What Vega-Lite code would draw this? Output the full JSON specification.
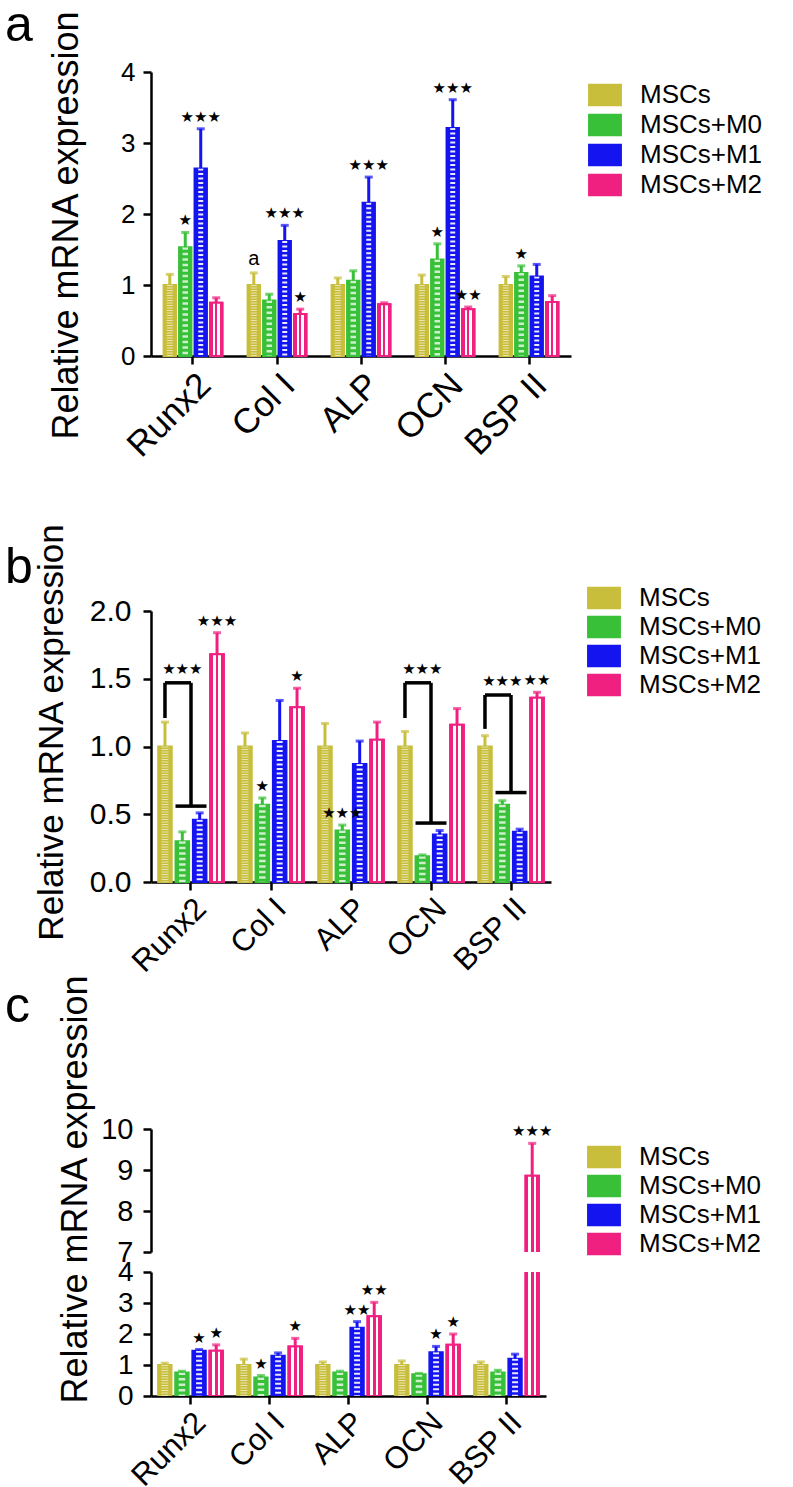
{
  "$schema": "https://vega.github.io/schema/vega-lite/v6.json",
  "autosize": {"type": "pad"},
  "padding": {"left": 5, "top": 0, "right": 5, "bottom": 5},
  "background": "white",
  "config": {
    "view": {"stroke": null},
    "axis": {"domainColor": "black", "tickColor": "black", "labelColor": "black", "titleColor": "black", "domainWidth": 2.5, "tickWidth": 2.5, "tickSize": 8, "grid": false, "labelFont": "Liberation Sans", "titleFont": "Liberation Sans", "titleFontWeight": "normal", "labelOverlap": false},
    "axisY": {"tickCount": 10, "labelOverlap": false},
    "legend": {"labelFont": "Liberation Sans", "labelColor": "black"},
    "title": {"font": "Liberation Sans", "fontWeight": "normal", "color": "black"}
  },
  "datasets": {
    "A": [
      {"gene": "Runx2", "group": "MSCs", "mean": 1.0, "hi": 1.15, "sig": ""},
      {"gene": "Runx2", "group": "MSCs+M0", "mean": 1.53, "hi": 1.74, "sig": "★"},
      {"gene": "Runx2", "group": "MSCs+M1", "mean": 2.64, "hi": 3.2, "sig": "★★★"},
      {"gene": "Runx2", "group": "MSCs+M2", "mean": 0.75, "hi": 0.82, "sig": ""},
      {"gene": "Col I", "group": "MSCs", "mean": 1.0, "hi": 1.17, "sig": "a"},
      {"gene": "Col I", "group": "MSCs+M0", "mean": 0.78, "hi": 0.87, "sig": ""},
      {"gene": "Col I", "group": "MSCs+M1", "mean": 1.62, "hi": 1.84, "sig": "★★★"},
      {"gene": "Col I", "group": "MSCs+M2", "mean": 0.59, "hi": 0.66, "sig": "★"},
      {"gene": "ALP", "group": "MSCs", "mean": 1.0, "hi": 1.1, "sig": ""},
      {"gene": "ALP", "group": "MSCs+M0", "mean": 1.06, "hi": 1.2, "sig": ""},
      {"gene": "ALP", "group": "MSCs+M1", "mean": 2.16, "hi": 2.52, "sig": "★★★"},
      {"gene": "ALP", "group": "MSCs+M2", "mean": 0.73, "hi": 0.75, "sig": ""},
      {"gene": "OCN", "group": "MSCs", "mean": 1.0, "hi": 1.14, "sig": ""},
      {"gene": "OCN", "group": "MSCs+M0", "mean": 1.36, "hi": 1.58, "sig": "★"},
      {"gene": "OCN", "group": "MSCs+M1", "mean": 3.21, "hi": 3.61, "sig": "★★★"},
      {"gene": "OCN", "group": "MSCs+M2", "mean": 0.66, "hi": 0.69, "sig": "★★"},
      {"gene": "BSP II", "group": "MSCs", "mean": 1.0, "hi": 1.12, "sig": ""},
      {"gene": "BSP II", "group": "MSCs+M0", "mean": 1.17, "hi": 1.27, "sig": "★"},
      {"gene": "BSP II", "group": "MSCs+M1", "mean": 1.12, "hi": 1.29, "sig": ""},
      {"gene": "BSP II", "group": "MSCs+M2", "mean": 0.76, "hi": 0.85, "sig": ""}
    ],
    "B": [
      {"gene": "Runx2", "group": "MSCs", "mean": 1.0, "hi": 1.18, "sig": ""},
      {"gene": "Runx2", "group": "MSCs+M0", "mean": 0.3, "hi": 0.37, "sig": ""},
      {"gene": "Runx2", "group": "MSCs+M1", "mean": 0.46, "hi": 0.51, "sig": ""},
      {"gene": "Runx2", "group": "MSCs+M2", "mean": 1.68, "hi": 1.84, "sig": "★★★"},
      {"gene": "Col I", "group": "MSCs", "mean": 1.0, "hi": 1.1, "sig": ""},
      {"gene": "Col I", "group": "MSCs+M0", "mean": 0.57, "hi": 0.62, "sig": "★"},
      {"gene": "Col I", "group": "MSCs+M1", "mean": 1.04, "hi": 1.34, "sig": ""},
      {"gene": "Col I", "group": "MSCs+M2", "mean": 1.29, "hi": 1.43, "sig": "★"},
      {"gene": "ALP", "group": "MSCs", "mean": 1.0, "hi": 1.17, "sig": ""},
      {"gene": "ALP", "group": "MSCs+M0", "mean": 0.38, "hi": 0.42, "sig": "★★★"},
      {"gene": "ALP", "group": "MSCs+M1", "mean": 0.87, "hi": 1.04, "sig": ""},
      {"gene": "ALP", "group": "MSCs+M2", "mean": 1.05, "hi": 1.18, "sig": ""},
      {"gene": "OCN", "group": "MSCs", "mean": 1.0, "hi": 1.11, "sig": ""},
      {"gene": "OCN", "group": "MSCs+M0", "mean": 0.19, "hi": 0.2, "sig": ""},
      {"gene": "OCN", "group": "MSCs+M1", "mean": 0.35, "hi": 0.38, "sig": ""},
      {"gene": "OCN", "group": "MSCs+M2", "mean": 1.16, "hi": 1.28, "sig": ""},
      {"gene": "BSP II", "group": "MSCs", "mean": 1.0, "hi": 1.08, "sig": ""},
      {"gene": "BSP II", "group": "MSCs+M0", "mean": 0.57, "hi": 0.6, "sig": ""},
      {"gene": "BSP II", "group": "MSCs+M1", "mean": 0.37, "hi": 0.39, "sig": ""},
      {"gene": "BSP II", "group": "MSCs+M2", "mean": 1.36, "hi": 1.4, "sig": "★★"}
    ],
    "Bk": [
      {"gene": "Runx2", "ylow": 1.21, "ytop": 1.47, "ybot": 0.56, "sig": "★★★"},
      {"gene": "OCN", "ylow": 1.21, "ytop": 1.47, "ybot": 0.435, "sig": "★★★"},
      {"gene": "BSP II", "ylow": 1.13, "ytop": 1.38, "ybot": 0.66, "sig": "★★★"}
    ],
    "C": [
      {"gene": "Runx2", "group": "MSCs", "mean": 1.0, "hi": 1.06, "sig": ""},
      {"gene": "Runx2", "group": "MSCs+M0", "mean": 0.76, "hi": 0.8, "sig": ""},
      {"gene": "Runx2", "group": "MSCs+M1", "mean": 1.46, "hi": 1.5, "sig": "★"},
      {"gene": "Runx2", "group": "MSCs+M2", "mean": 1.46, "hi": 1.65, "sig": "★"},
      {"gene": "Col I", "group": "MSCs", "mean": 1.0, "hi": 1.19, "sig": ""},
      {"gene": "Col I", "group": "MSCs+M0", "mean": 0.6, "hi": 0.66, "sig": "★"},
      {"gene": "Col I", "group": "MSCs+M1", "mean": 1.3, "hi": 1.39, "sig": ""},
      {"gene": "Col I", "group": "MSCs+M2", "mean": 1.6, "hi": 1.86, "sig": "★"},
      {"gene": "ALP", "group": "MSCs", "mean": 1.0, "hi": 1.1, "sig": ""},
      {"gene": "ALP", "group": "MSCs+M0", "mean": 0.76, "hi": 0.8, "sig": ""},
      {"gene": "ALP", "group": "MSCs+M1", "mean": 2.2, "hi": 2.4, "sig": "★★"},
      {"gene": "ALP", "group": "MSCs+M2", "mean": 2.57, "hi": 3.02, "sig": "★★"},
      {"gene": "OCN", "group": "MSCs", "mean": 1.0, "hi": 1.13, "sig": ""},
      {"gene": "OCN", "group": "MSCs+M0", "mean": 0.7, "hi": 0.73, "sig": ""},
      {"gene": "OCN", "group": "MSCs+M1", "mean": 1.41, "hi": 1.6, "sig": "★"},
      {"gene": "OCN", "group": "MSCs+M2", "mean": 1.65, "hi": 2.0, "sig": "★"},
      {"gene": "BSP II", "group": "MSCs", "mean": 1.0, "hi": 1.1, "sig": ""},
      {"gene": "BSP II", "group": "MSCs+M0", "mean": 0.76, "hi": 0.83, "sig": ""},
      {"gene": "BSP II", "group": "MSCs+M1", "mean": 1.2, "hi": 1.35, "sig": ""},
      {"gene": "BSP II", "group": "MSCs+M2", "mean": 8.86, "hi": 9.65, "sig": "★★★"}
    ]
  },
  "bounds": "flush",
  "spacing": 255,
  "resolve": {"scale": {"color": "independent", "stroke": "independent", "xOffset": "independent", "strokeDash": "independent", "strokeWidth": "independent", "opacity": "independent"}, "legend": {"color": "independent"}},
  "vconcat": [
    {
      "width": 420, "height": 284,
      "data": {"name": "A"},
      "title": {"text": "a", "orient": "top", "anchor": "start", "frame": "group", "fontSize": 50, "baseline": "alphabetic", "dx": -146, "dy": 85},
      "layer": [
        {"mark": {"type": "bar", "strokeWidth": 2},
         "encoding": {
           "x": {"field": "gene", "type": "nominal", "scale": {"domain": ["Runx2", "Col I", "ALP", "OCN", "BSP II"], "paddingInner": 0.3, "paddingOuter": 0.15}, "axis": {"title": null, "labelAngle": -45, "labelFontSize": 35, "labelPadding": 3}},
           "xOffset": {"field": "group", "type": "nominal", "scale": {"domain": ["MSCs", "MSCs+M0", "MSCs+M1", "MSCs+M2"], "paddingInner": 0.2, "paddingOuter": 0}},
           "y": {"field": "mean", "type": "quantitative", "scale": {"domain": [0, 4], "nice": false}, "axis": {"values": [0, 1, 2, 3, 4], "tickCount": 10, "format": "d", "labelOverlap": false, "title": "Relative mRNA expression", "titleFontSize": 36, "labelFontSize": 26, "labelPadding": 8, "titleX": -66, "titleY": 153}},
           "color": {"field": "group", "type": "nominal", "scale": {"domain": ["MSCs", "MSCs+M0", "MSCs+M1", "MSCs+M2"], "range": ["#C8BE3C", "#38C038", "#1414F0", "#F02080"]}, "legend": {"orient": "none", "legendX": 441, "legendY": 10, "title": null, "symbolType": "M-1.5,-1H1.5V1H-1.5Z", "symbolSize": 510, "labelFontSize": 26, "labelOffset": 22, "rowPadding": 4, "symbolStrokeWidth": 0}},
           "stroke": {"field": "group", "type": "nominal", "scale": {"domain": ["MSCs", "MSCs+M0", "MSCs+M1", "MSCs+M2"], "range": ["#C8BE3C", "#38C038", "#1414F0", "#F02080"]}, "legend": null}
         }},
        {"transform": [{"filter": "datum.group != 'MSCs+M2'"}],
         "mark": {"type": "rule", "color": "white"},
         "encoding": {
           "x": {"field": "gene", "type": "nominal"},
           "xOffset": {"field": "group", "type": "nominal"},
           "y": {"field": "mean", "type": "quantitative"},
           "y2": {"datum": 0},
           "strokeDash": {"field": "group", "type": "nominal", "scale": {"domain": ["MSCs", "MSCs+M0", "MSCs+M1"], "range": [[1, 1.5], [2.5, 3], [2, 2.5]]}, "legend": null},
           "strokeWidth": {"field": "group", "type": "ordinal", "scale": {"domain": ["MSCs", "MSCs+M0", "MSCs+M1"], "range": [6, 5, 8]}, "legend": null},
           "opacity": {"field": "group", "type": "ordinal", "scale": {"domain": ["MSCs", "MSCs+M0", "MSCs+M1"], "range": [0.6, 0.9, 0.95]}, "legend": null}
         }},
        {"transform": [{"filter": "datum.group == 'MSCs+M2'"}],
         "mark": {"type": "bar", "stroke": "#F02080", "strokeWidth": 2, "fill": {"gradient": "linear", "x1": 0, "y1": 0, "x2": 1, "y2": 0, "stops": [{"offset": 0, "color": "#F02080"}, {"offset": 0.22, "color": "#F02080"}, {"offset": 0.22, "color": "#FFFFFF"}, {"offset": 0.4, "color": "#FFFFFF"}, {"offset": 0.4, "color": "#F02080"}, {"offset": 0.6, "color": "#F02080"}, {"offset": 0.6, "color": "#FFFFFF"}, {"offset": 0.78, "color": "#FFFFFF"}, {"offset": 0.78, "color": "#F02080"}, {"offset": 1, "color": "#F02080"}]}},
         "encoding": {
           "x": {"field": "gene", "type": "nominal"},
           "xOffset": {"field": "group", "type": "nominal"},
           "y": {"field": "mean", "type": "quantitative"}
         }},
        {"mark": {"type": "rule", "strokeWidth": 3},
         "encoding": {
           "x": {"field": "gene", "type": "nominal"},
           "xOffset": {"field": "group", "type": "nominal"},
           "y": {"field": "mean", "type": "quantitative"},
           "y2": {"field": "hi"},
           "color": {"field": "group", "type": "nominal", "legend": null}
         }},
        {"mark": {"type": "tick", "thickness": 3, "size": 8},
         "encoding": {
           "x": {"field": "gene", "type": "nominal"},
           "xOffset": {"field": "group", "type": "nominal"},
           "y": {"field": "hi", "type": "quantitative"},
           "color": {"field": "group", "type": "nominal", "legend": null}
         }},
        {"transform": [{"filter": "datum.sig != '' && datum.sig != 'a'"}],
         "mark": {"type": "text", "baseline": "bottom", "dy": -4, "font": "DejaVu Sans", "fontSize": 15, "color": "black"},
         "encoding": {
           "x": {"field": "gene", "type": "nominal"},
           "xOffset": {"field": "group", "type": "nominal"},
           "y": {"field": "hi", "type": "quantitative"},
           "text": {"field": "sig"}
         }},
        {"transform": [{"filter": "datum.sig == 'a'"}],
         "mark": {"type": "text", "baseline": "bottom", "dy": -4, "font": "Liberation Sans", "fontSize": 20, "color": "black"},
         "encoding": {
           "x": {"field": "gene", "type": "nominal"},
           "xOffset": {"field": "group", "type": "nominal"},
           "y": {"field": "hi", "type": "quantitative"},
           "text": {"field": "sig"}
         }}
      ]
    },
    {
      "bounds": "flush",
      "spacing": 247,
      "resolve": {"scale": {"color": "independent", "stroke": "independent", "xOffset": "independent", "strokeDash": "independent", "strokeWidth": "independent", "opacity": "independent"}, "legend": {"color": "independent"}},
      "vconcat": [
        {
          "width": 400, "height": 271,
          "title": {"text": "b", "orient": "top", "anchor": "start", "frame": "group", "fontSize": 50, "baseline": "alphabetic", "dx": -146, "dy": 114},
          "layer": [
            {"data": {"name": "B"},
             "mark": {"type": "bar", "strokeWidth": 2},
             "encoding": {
               "x": {"field": "gene", "type": "nominal", "scale": {"domain": ["Runx2", "Col I", "ALP", "OCN", "BSP II"], "paddingInner": 0.18, "paddingOuter": 0.09}, "axis": {"title": null, "labelAngle": -45, "labelFontSize": 31, "labelPadding": 3}},
               "xOffset": {"field": "group", "type": "nominal", "scale": {"domain": ["MSCs", "MSCs+M0", "MSCs+M1", "MSCs+M2"], "paddingInner": 0.22, "paddingOuter": 0}},
               "y": {"field": "mean", "type": "quantitative", "scale": {"domain": [0, 2], "nice": false}, "axis": {"values": [0, 0.5, 1, 1.5, 2], "tickCount": 10, "format": ".1f", "labelOverlap": false, "title": "Relative mRNA expression", "titleFontSize": 35, "labelFontSize": 30, "labelPadding": 12, "titleX": -82, "titleY": 121}},
               "color": {"field": "group", "type": "nominal", "scale": {"domain": ["MSCs", "MSCs+M0", "MSCs+M1", "MSCs+M2"], "range": ["#C8BE3C", "#38C038", "#1414F0", "#F02080"]}, "legend": {"orient": "none", "legendX": 440, "legendY": -26, "title": null, "symbolType": "M-1.5,-1H1.5V1H-1.5Z", "symbolSize": 510, "labelFontSize": 26, "labelOffset": 22, "rowPadding": 3, "symbolStrokeWidth": 0}},
               "stroke": {"field": "group", "type": "nominal", "scale": {"domain": ["MSCs", "MSCs+M0", "MSCs+M1", "MSCs+M2"], "range": ["#C8BE3C", "#38C038", "#1414F0", "#F02080"]}, "legend": null}
             }},
            {"data": {"name": "B"},
             "transform": [{"filter": "datum.group != 'MSCs+M2'"}],
             "mark": {"type": "rule", "color": "white"},
             "encoding": {
               "x": {"field": "gene", "type": "nominal"},
               "xOffset": {"field": "group", "type": "nominal"},
               "y": {"field": "mean", "type": "quantitative"},
               "y2": {"datum": 0},
               "strokeDash": {"field": "group", "type": "nominal", "scale": {"domain": ["MSCs", "MSCs+M0", "MSCs+M1"], "range": [[1, 1.5], [2.5, 3], [2, 2.5]]}, "legend": null},
               "strokeWidth": {"field": "group", "type": "ordinal", "scale": {"domain": ["MSCs", "MSCs+M0", "MSCs+M1"], "range": [7, 6, 9]}, "legend": null},
               "opacity": {"field": "group", "type": "ordinal", "scale": {"domain": ["MSCs", "MSCs+M0", "MSCs+M1"], "range": [0.6, 0.9, 0.95]}, "legend": null}
             }},
            {"data": {"name": "B"},
             "transform": [{"filter": "datum.group == 'MSCs+M2'"}],
             "mark": {"type": "bar", "stroke": "#F02080", "strokeWidth": 2, "fill": {"gradient": "linear", "x1": 0, "y1": 0, "x2": 1, "y2": 0, "stops": [{"offset": 0, "color": "#F02080"}, {"offset": 0.22, "color": "#F02080"}, {"offset": 0.22, "color": "#FFFFFF"}, {"offset": 0.4, "color": "#FFFFFF"}, {"offset": 0.4, "color": "#F02080"}, {"offset": 0.6, "color": "#F02080"}, {"offset": 0.6, "color": "#FFFFFF"}, {"offset": 0.78, "color": "#FFFFFF"}, {"offset": 0.78, "color": "#F02080"}, {"offset": 1, "color": "#F02080"}]}},
             "encoding": {
               "x": {"field": "gene", "type": "nominal"},
               "xOffset": {"field": "group", "type": "nominal"},
               "y": {"field": "mean", "type": "quantitative"}
             }},
            {"data": {"name": "B"},
             "mark": {"type": "rule", "strokeWidth": 3},
             "encoding": {
               "x": {"field": "gene", "type": "nominal"},
               "xOffset": {"field": "group", "type": "nominal"},
               "y": {"field": "mean", "type": "quantitative"},
               "y2": {"field": "hi"},
               "color": {"field": "group", "type": "nominal", "legend": null}
             }},
            {"data": {"name": "B"},
             "mark": {"type": "tick", "thickness": 3, "size": 8},
             "encoding": {
               "x": {"field": "gene", "type": "nominal"},
               "xOffset": {"field": "group", "type": "nominal"},
               "y": {"field": "hi", "type": "quantitative"},
               "color": {"field": "group", "type": "nominal", "legend": null}
             }},
            {"data": {"name": "B"},
             "transform": [{"filter": "datum.sig != ''"}],
             "mark": {"type": "text", "baseline": "bottom", "dy": -4, "font": "DejaVu Sans", "fontSize": 15, "color": "black"},
             "encoding": {
               "x": {"field": "gene", "type": "nominal"},
               "xOffset": {"field": "group", "type": "nominal"},
               "y": {"field": "hi", "type": "quantitative"},
               "text": {"field": "sig"}
             }},
            {"data": {"name": "Bk"},
             "mark": {"type": "rule", "strokeWidth": 3.5, "color": "black"},
             "encoding": {
               "x": {"field": "gene", "type": "nominal"},
               "xOffset": {"datum": "MSCs"},
               "y": {"field": "ylow", "type": "quantitative"},
               "y2": {"field": "ytop"}
             }},
            {"data": {"name": "Bk"},
             "mark": {"type": "rule", "strokeWidth": 3.5, "color": "black"},
             "encoding": {
               "x": {"field": "gene", "type": "nominal"},
               "xOffset": {"datum": "MSCs"},
               "x2": {"field": "gene"},
               "y": {"field": "ytop", "type": "quantitative"}
             }},
            {"data": {"name": "Bk"},
             "mark": {"type": "rule", "strokeWidth": 3.5, "color": "black"},
             "encoding": {
               "x": {"field": "gene", "type": "nominal"},
               "y": {"field": "ytop", "type": "quantitative"},
               "y2": {"field": "ybot"}
             }},
            {"data": {"name": "Bk"},
             "mark": {"type": "tick", "thickness": 3.5, "size": 31, "color": "black", "opacity": 1},
             "encoding": {
               "x": {"field": "gene", "type": "nominal"},
               "y": {"field": "ybot", "type": "quantitative"}
             }},
            {"data": {"name": "Bk"},
             "mark": {"type": "text", "baseline": "bottom", "dy": -6, "font": "DejaVu Sans", "fontSize": 15, "color": "black"},
             "encoding": {
               "x": {"field": "gene", "type": "nominal"},
               "xOffset": {"datum": "MSCs+M0"},
               "y": {"field": "ytop", "type": "quantitative"},
               "text": {"field": "sig"}
             }}
          ]
        },
        {
          "bounds": "flush",
          "spacing": 20,
          "resolve": {"scale": {"color": "independent", "stroke": "independent", "xOffset": "independent", "strokeDash": "independent", "strokeWidth": "independent", "opacity": "independent"}, "legend": {"color": "independent"}},
          "vconcat": [
            {
              "width": 395, "height": 123,
              "data": {"name": "C"},
              "title": {"text": "c", "orient": "top", "anchor": "start", "frame": "group", "fontSize": 50, "baseline": "alphabetic", "dx": -146, "dy": -39},
              "layer": [
                {"mark": {"type": "bar", "strokeWidth": 2, "clip": true},
                 "encoding": {
                   "x": {"field": "gene", "type": "nominal", "scale": {"domain": ["Runx2", "Col I", "ALP", "OCN", "BSP II"], "paddingInner": 0.18, "paddingOuter": 0.09}, "axis": null},
                   "xOffset": {"field": "group", "type": "nominal", "scale": {"domain": ["MSCs", "MSCs+M0", "MSCs+M1", "MSCs+M2"], "paddingInner": 0.22, "paddingOuter": 0}},
                   "y": {"field": "mean", "type": "quantitative", "scale": {"domain": [7, 10], "nice": false}, "axis": {"values": [7, 8, 9, 10], "tickCount": 10, "format": "d", "labelOverlap": false, "title": null, "labelFontSize": 29, "labelPadding": 10}},
                   "color": {"field": "group", "type": "nominal", "scale": {"domain": ["MSCs", "MSCs+M0", "MSCs+M1", "MSCs+M2"], "range": ["#C8BE3C", "#38C038", "#1414F0", "#F02080"]}, "legend": {"orient": "none", "legendX": 440, "legendY": 15, "title": null, "symbolType": "M-1.5,-1H1.5V1H-1.5Z", "symbolSize": 510, "labelFontSize": 26, "labelOffset": 22, "rowPadding": 3, "symbolStrokeWidth": 0}},
                   "stroke": {"field": "group", "type": "nominal", "scale": {"domain": ["MSCs", "MSCs+M0", "MSCs+M1", "MSCs+M2"], "range": ["#C8BE3C", "#38C038", "#1414F0", "#F02080"]}, "legend": null}
                 }},
                {"transform": [{"filter": "datum.group == 'MSCs+M2'"}],
                 "mark": {"type": "bar", "stroke": "#F02080", "strokeWidth": 2, "clip": true, "fill": {"gradient": "linear", "x1": 0, "y1": 0, "x2": 1, "y2": 0, "stops": [{"offset": 0, "color": "#F02080"}, {"offset": 0.22, "color": "#F02080"}, {"offset": 0.22, "color": "#FFFFFF"}, {"offset": 0.4, "color": "#FFFFFF"}, {"offset": 0.4, "color": "#F02080"}, {"offset": 0.6, "color": "#F02080"}, {"offset": 0.6, "color": "#FFFFFF"}, {"offset": 0.78, "color": "#FFFFFF"}, {"offset": 0.78, "color": "#F02080"}, {"offset": 1, "color": "#F02080"}]}},
                 "encoding": {
                   "x": {"field": "gene", "type": "nominal"},
                   "xOffset": {"field": "group", "type": "nominal"},
                   "y": {"field": "mean", "type": "quantitative"}
                 }},
                {"mark": {"type": "rule", "strokeWidth": 3, "clip": true},
                 "encoding": {
                   "x": {"field": "gene", "type": "nominal"},
                   "xOffset": {"field": "group", "type": "nominal"},
                   "y": {"field": "mean", "type": "quantitative"},
                   "y2": {"field": "hi"},
                   "color": {"field": "group", "type": "nominal", "legend": null}
                 }},
                {"mark": {"type": "tick", "thickness": 3, "size": 8, "clip": true},
                 "encoding": {
                   "x": {"field": "gene", "type": "nominal"},
                   "xOffset": {"field": "group", "type": "nominal"},
                   "y": {"field": "hi", "type": "quantitative"},
                   "color": {"field": "group", "type": "nominal", "legend": null}
                 }},
                {"transform": [{"filter": "datum.sig != '' && datum.hi > 7"}],
                 "mark": {"type": "text", "baseline": "bottom", "dy": -4, "font": "DejaVu Sans", "fontSize": 15, "color": "black"},
                 "encoding": {
                   "x": {"field": "gene", "type": "nominal"},
                   "xOffset": {"field": "group", "type": "nominal"},
                   "y": {"field": "hi", "type": "quantitative"},
                   "text": {"field": "sig"}
                 }}
              ]
            },
            {
              "width": 395, "height": 124,
              "data": {"name": "C"},
              "layer": [
                {"mark": {"type": "bar", "strokeWidth": 2, "clip": true},
                 "encoding": {
                   "x": {"field": "gene", "type": "nominal", "scale": {"domain": ["Runx2", "Col I", "ALP", "OCN", "BSP II"], "paddingInner": 0.18, "paddingOuter": 0.09}, "axis": {"title": null, "labelAngle": -45, "labelFontSize": 31, "labelPadding": 3}},
                   "xOffset": {"field": "group", "type": "nominal", "scale": {"domain": ["MSCs", "MSCs+M0", "MSCs+M1", "MSCs+M2"], "paddingInner": 0.22, "paddingOuter": 0}},
                   "y": {"field": "mean", "type": "quantitative", "scale": {"domain": [0, 4], "nice": false}, "axis": {"values": [0, 1, 2, 3, 4], "tickCount": 10, "format": "d", "labelOverlap": false, "title": "Relative mRNA expression", "titleFontSize": 36, "labelFontSize": 28, "labelPadding": 10, "titleX": -57, "titleY": -83}},
                   "color": {"field": "group", "type": "nominal", "scale": {"domain": ["MSCs", "MSCs+M0", "MSCs+M1", "MSCs+M2"], "range": ["#C8BE3C", "#38C038", "#1414F0", "#F02080"]}, "legend": null},
                   "stroke": {"field": "group", "type": "nominal", "scale": {"domain": ["MSCs", "MSCs+M0", "MSCs+M1", "MSCs+M2"], "range": ["#C8BE3C", "#38C038", "#1414F0", "#F02080"]}, "legend": null}
                 }},
                {"transform": [{"filter": "datum.group != 'MSCs+M2'"}],
                 "mark": {"type": "rule", "color": "white", "clip": true},
                 "encoding": {
                   "x": {"field": "gene", "type": "nominal"},
                   "xOffset": {"field": "group", "type": "nominal"},
                   "y": {"field": "mean", "type": "quantitative"},
                   "y2": {"datum": 0},
                   "strokeDash": {"field": "group", "type": "nominal", "scale": {"domain": ["MSCs", "MSCs+M0", "MSCs+M1"], "range": [[1, 1.5], [2.5, 3], [2, 2.5]]}, "legend": null},
                   "strokeWidth": {"field": "group", "type": "ordinal", "scale": {"domain": ["MSCs", "MSCs+M0", "MSCs+M1"], "range": [7, 6, 9]}, "legend": null},
                   "opacity": {"field": "group", "type": "ordinal", "scale": {"domain": ["MSCs", "MSCs+M0", "MSCs+M1"], "range": [0.6, 0.9, 0.95]}, "legend": null}
                 }},
                {"transform": [{"filter": "datum.group == 'MSCs+M2'"}],
                 "mark": {"type": "bar", "stroke": "#F02080", "strokeWidth": 2, "clip": true, "fill": {"gradient": "linear", "x1": 0, "y1": 0, "x2": 1, "y2": 0, "stops": [{"offset": 0, "color": "#F02080"}, {"offset": 0.22, "color": "#F02080"}, {"offset": 0.22, "color": "#FFFFFF"}, {"offset": 0.4, "color": "#FFFFFF"}, {"offset": 0.4, "color": "#F02080"}, {"offset": 0.6, "color": "#F02080"}, {"offset": 0.6, "color": "#FFFFFF"}, {"offset": 0.78, "color": "#FFFFFF"}, {"offset": 0.78, "color": "#F02080"}, {"offset": 1, "color": "#F02080"}]}},
                 "encoding": {
                   "x": {"field": "gene", "type": "nominal"},
                   "xOffset": {"field": "group", "type": "nominal"},
                   "y": {"field": "mean", "type": "quantitative"}
                 }},
                {"mark": {"type": "rule", "strokeWidth": 3, "clip": true},
                 "encoding": {
                   "x": {"field": "gene", "type": "nominal"},
                   "xOffset": {"field": "group", "type": "nominal"},
                   "y": {"field": "mean", "type": "quantitative"},
                   "y2": {"field": "hi"},
                   "color": {"field": "group", "type": "nominal", "legend": null}
                 }},
                {"mark": {"type": "tick", "thickness": 3, "size": 8, "clip": true},
                 "encoding": {
                   "x": {"field": "gene", "type": "nominal"},
                   "xOffset": {"field": "group", "type": "nominal"},
                   "y": {"field": "hi", "type": "quantitative"},
                   "color": {"field": "group", "type": "nominal", "legend": null}
                 }},
                {"transform": [{"filter": "datum.sig != '' && datum.hi < 4"}],
                 "mark": {"type": "text", "baseline": "bottom", "dy": -4, "font": "DejaVu Sans", "fontSize": 15, "color": "black"},
                 "encoding": {
                   "x": {"field": "gene", "type": "nominal"},
                   "xOffset": {"field": "group", "type": "nominal"},
                   "y": {"field": "hi", "type": "quantitative"},
                   "text": {"field": "sig"}
                 }}
              ]
            }
          ]
        }
      ]
    }
  ]
}
